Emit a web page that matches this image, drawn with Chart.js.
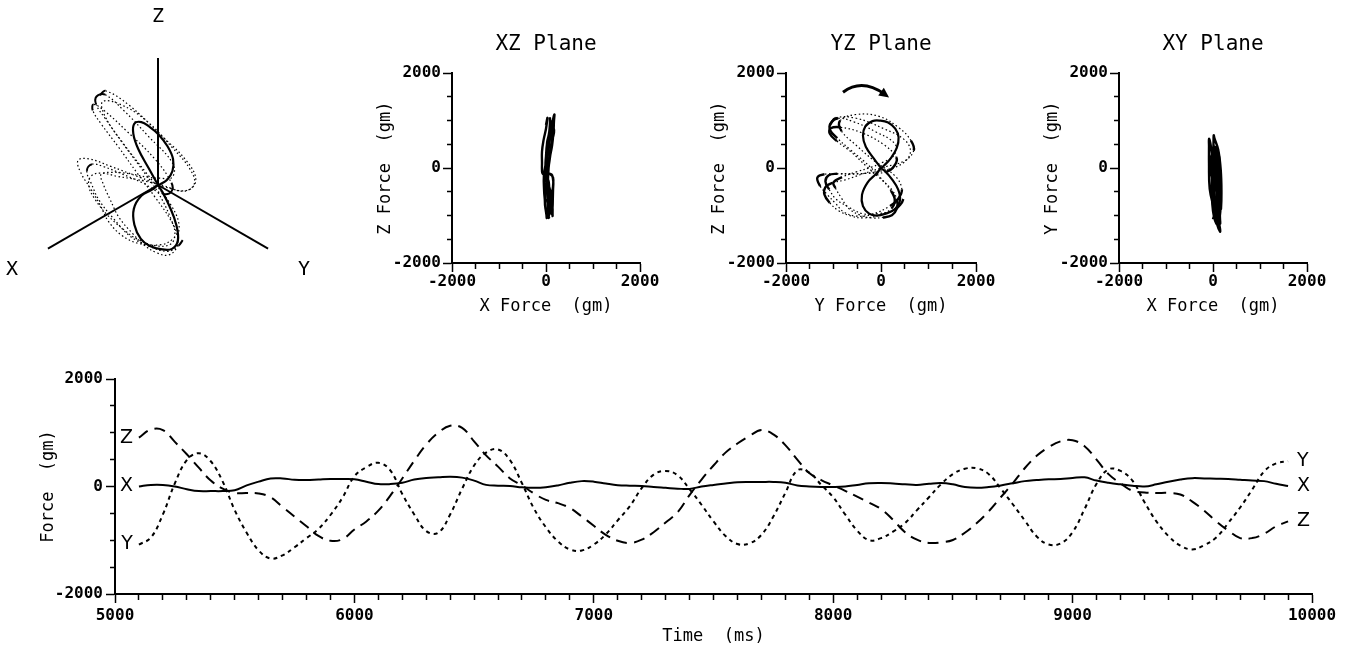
<!DOCTYPE html>
<html>
<head>
<meta charset="utf-8">
<script src="https://cdn.jsdelivr.net/npm/chart.js@4.4.0/dist/chart.umd.min.js"></script>
<style>
  html, body { margin: 0; padding: 0; background: #fff; }
  body { width: 1345px; height: 652px; position: relative; overflow: hidden; }
  canvas { position: absolute; }
</style>
</head>
<body>
<canvas id="view3d" width="320" height="300" style="left:0px;top:0px"></canvas>
<canvas id="xzPlane" width="364" height="300" style="left:300px;top:25px"></canvas>
<canvas id="yzPlane" width="366" height="300" style="left:634px;top:25px"></canvas>
<canvas id="xyPlane" width="364" height="300" style="left:967px;top:25px"></canvas>
<canvas id="timeChart" width="1345" height="312" style="left:0px;top:340px"></canvas>
<script>
// sample times (ms) and force readings (gm)
const timeMs = [
  5100, 5150, 5200, 5250, 5300, 5350, 5400, 5450, 5500, 5550,
  5600, 5650, 5700, 5750, 5800, 5850, 5900, 5950, 6000, 6050,
  6100, 6150, 6200, 6250, 6300, 6350, 6400, 6450, 6500, 6550,
  6600, 6650, 6700, 6750, 6800, 6850, 6900, 6950, 7000, 7050,
  7100, 7150, 7200, 7250, 7300, 7350, 7400, 7450, 7500, 7550,
  7600, 7650, 7700, 7750, 7800, 7850, 7900, 7950, 8000, 8050,
  8100, 8150, 8200, 8250, 8300, 8350, 8400, 8450, 8500, 8550,
  8600, 8650, 8700, 8750, 8800, 8850, 8900, 8950, 9000, 9050,
  9100, 9150, 9200, 9250, 9300, 9350, 9400, 9450, 9500, 9550,
  9600, 9650, 9700, 9750, 9800, 9850, 9900
];
const forceX = [
  0, 30, 30, 0, -50, -85, -85, -85, -70, 20,
  90, 150, 150, 125, 120, 130, 140, 140, 135, 90,
  45, 45, 70, 130, 160, 170, 180, 165, 110, 30,
  15, 10, -15, -25, -15, 20, 70, 100, 90, 55,
  25, 15, 10, -10, -25, -40, -45, 0, 30, 55,
  80, 85, 85, 85, 70, 20, 0, -10, -10, 0,
  30, 60, 65, 55, 40, 30, 50, 65, 40, -10,
  -25, -10, 20, 60, 100, 120, 135, 140, 160, 170,
  110, 70, 40, 15, 0, 40, 90, 130, 155, 150,
  145, 140, 125, 110, 100, 50, 10
];
const forceY = [
  -1080, -950, -520, 60, 490, 620, 470, 90, -440, -860,
  -1190, -1340, -1280, -1130, -960, -790, -530, -210, 190, 360,
  440, 300, -140, -520, -830, -860, -520, -40, 390, 630,
  690, 490, 60, -410, -760, -1020, -1170, -1190, -1080, -890,
  -630, -370, -30, 220, 290, 210, -50, -340, -650, -920,
  -1070, -1060, -900, -560, -120, 300, 260, 30, -200, -520,
  -820, -1000, -960, -840, -680, -440, -200, 40, 230, 330,
  340, 230, -40, -330, -630, -930, -1080, -1060, -850, -420,
  50, 320, 290, 110, -290, -650, -920, -1100, -1170, -1090,
  -950, -680, -390, -60, 280, 430, 470
];
const forceZ = [
  910, 1060, 1050, 830, 600, 350, 110, -40, -120, -120,
  -130, -200, -380, -560, -740, -920, -1010, -980, -800, -650,
  -450, -170, 150, 480, 780, 1000, 1130, 1090, 840, 580,
  370, 150, 20, -130, -250, -310, -400, -560, -730, -900,
  -1010, -1050, -990, -850, -670, -480, -160, 130, 390, 630,
  800, 940, 1050, 970, 770, 500, 250, 120, 20, -80,
  -190, -300, -420, -620, -850, -990, -1050, -1040, -995, -860,
  -680, -460, -200, 60, 340, 570, 730, 840, 860, 750,
  500, 230, 60, -80, -110, -120, -120, -150, -280, -450,
  -650, -820, -960, -960, -880, -740, -650
];
const loopX = [0, 20, 50, 80, 110, 130, 140, 140, 120, 90, 60, 30, 10, 0, 10, 30, 50, 60, 70, 60, 50, 40, 30, 20, 10, 5, 0];
const loopY = [0, -150, -320, -380, -330, -180, -20, 150, 300, 370, 330, 200, 60, 0, -100, -280, -400, -380, -250, -100, 100, 300, 400, 360, 220, 80, 0];
const loopZ = [0, 200, 450, 680, 880, 990, 1000, 960, 830, 650, 420, 200, 50, 0, -120, -300, -560, -800, -960, -1000, -960, -860, -680, -450, -220, -60, 0];

const planeTickLabels = [-2000, 0, 2000];
const forceTickLabels = [-2000, 0, 2000];
const timeTickLabels = [5000, 6000, 7000, 8000, 9000, 10000];

Chart.defaults.color = '#000';
Chart.defaults.font.family = 'DejaVu Sans Mono';
Chart.defaults.animation = false;
Chart.defaults.responsive = false;
Chart.defaults.plugins.legend.display = false;
Chart.defaults.plugins.tooltip.enabled = false;

const tickFont = { family: 'DejaVu Sans Mono', size: 16, weight: 'bold' };
const axisTitleFont = { family: 'DejaVu Sans Mono', size: 17, weight: 'normal' };

// labelled ticks are long, the others are cut short with a dash
// (left axes draw their ticks from the outer end, so the dash starts with a gap)
function tickGrid(labelled, vertical) {
  const shortDash = vertical ? [0, 4, 6, 100] : [5, 100];
  return {
    drawOnChartArea: false, tickLength: 9, color: '#000', tickWidth: 1.5,
    tickBorderDash: ctx => (ctx.tick && labelled.includes(ctx.tick.value)) ? [] : shortDash
  };
}

// sparse (fast moving) stretches of the trace look dotted, like the plotter output
function isFast(ctx, limit) {
  return Math.hypot(ctx.p1.x - ctx.p0.x, ctx.p1.y - ctx.p0.y) > limit;
}

function traceDataset(points, limit, width) {
  return {
    data: points,
    showLine: true,
    pointRadius: 0,
    borderColor: '#000',
    borderWidth: width || 2,
    tension: 0.4,
    segment: {
      borderDash: ctx => isFast(ctx, limit) ? [1.5, 2.5] : undefined,
      borderWidth: ctx => isFast(ctx, limit) ? 1.2 : undefined
    }
  };
}

function loopDataset(points) {
  return { data: points, showLine: true, pointRadius: 0, borderColor: '#000', borderWidth: 2.2, tension: 0.4 };
}

// ---- 3D view ----
const px3d = 0.062;
const origin3d = { x: 158, y: 185 };
const axisLen3d = 2050;
const labelLen3d = 2720;
const c30 = Math.cos(Math.PI / 6);

function project(fx, fy, fz) {
  return { x: (fy - fx) * c30, y: fz - (fx + fy) * 0.5 };
}

const axes3d = {
  id: 'axes3d',
  beforeDatasetsDraw(chart) {
    const { ctx, scales: { x, y } } = chart;
    const o = project(0, 0, 0);
    const ends = [project(axisLen3d, 0, 0), project(0, axisLen3d, 0), project(0, 0, axisLen3d)];
    ctx.save();
    ctx.strokeStyle = '#000';
    ctx.lineWidth = 2;
    ends.forEach(e => {
      ctx.beginPath();
      ctx.moveTo(x.getPixelForValue(o.x), y.getPixelForValue(o.y));
      ctx.lineTo(x.getPixelForValue(e.x), y.getPixelForValue(e.y));
      ctx.stroke();
    });
    ctx.font = '20px "DejaVu Sans Mono"';
    ctx.fillStyle = '#000';
    ctx.textAlign = 'center';
    ctx.textBaseline = 'middle';
    [['X', project(labelLen3d, 0, 0)], ['Y', project(0, labelLen3d, 0)], ['Z', project(0, 0, labelLen3d)]]
      .forEach(([name, p]) => ctx.fillText(name, x.getPixelForValue(p.x), y.getPixelForValue(p.y)));
    ctx.restore();
  }
};

const c3d = document.getElementById('view3d');
new Chart(c3d, {
  type: 'scatter',
  data: {
    datasets: [
      traceDataset(timeMs.map((t, i) => project(forceX[i], forceY[i], forceZ[i])), 9),
      loopDataset(loopX.map((v, i) => project(loopX[i], loopY[i], loopZ[i])))
    ]
  },
  options: {
    layout: { padding: 0 },
    scales: {
      x: { display: false, min: -origin3d.x / px3d, max: (c3d.width - origin3d.x) / px3d },
      y: { display: false, min: -(c3d.height - origin3d.y) / px3d, max: origin3d.y / px3d }
    }
  },
  plugins: [axes3d]
});

// ---- plane views ----
function planeAxis(title, isX) {
  return {
    type: 'linear',
    min: -2000,
    max: 2000,
    border: { color: '#000', width: 2 },
    grid: tickGrid(planeTickLabels, !isX),
    ticks: {
      stepSize: 500, autoSkip: false, maxRotation: 0, padding: isX ? 0 : 2, font: tickFont,
      callback: v => planeTickLabels.includes(v) ? String(v) : ''
    },
    title: { display: true, text: title, font: axisTitleFont, padding: isX ? { top: 0, bottom: 8 } : { top: 75, bottom: 0 } },
    afterFit: s => { if (isX) s.height = 62; else s.width = 152; }
  };
}

const rotationArrow = {
  id: 'rotationArrow',
  afterDatasetsDraw(chart) {
    const { ctx, scales: { x, y } } = chart;
    const p0 = [x.getPixelForValue(-800), y.getPixelForValue(1600)];
    const pc = [x.getPixelForValue(-400), y.getPixelForValue(1900)];
    const p1 = [x.getPixelForValue(170), y.getPixelForValue(1490)];
    const ang = Math.atan2(p1[1] - pc[1], p1[0] - pc[0]);
    ctx.save();
    ctx.strokeStyle = '#000';
    ctx.fillStyle = '#000';
    ctx.lineWidth = 3;
    ctx.beginPath();
    ctx.moveTo(p0[0], p0[1]);
    ctx.quadraticCurveTo(pc[0], pc[1], p1[0] - 6 * Math.cos(ang), p1[1] - 6 * Math.sin(ang));
    ctx.stroke();
    ctx.beginPath();
    ctx.moveTo(p1[0], p1[1]);
    ctx.lineTo(p1[0] - 11 * Math.cos(ang - 0.45), p1[1] - 11 * Math.sin(ang - 0.45));
    ctx.lineTo(p1[0] - 11 * Math.cos(ang + 0.45), p1[1] - 11 * Math.sin(ang + 0.45));
    ctx.closePath();
    ctx.fill();
    ctx.restore();
  }
};

function planeChart(id, xs, ys, lx, ly, fastLimit, title, xTitle, yTitle, extra) {
  return new Chart(document.getElementById(id), {
    type: 'scatter',
    data: {
      datasets: [
        traceDataset(timeMs.map((t, i) => ({ x: xs[i], y: ys[i] })), fastLimit, 2.4),
        loopDataset(lx.map((v, i) => ({ x: lx[i], y: ly[i] })))
      ]
    },
    options: {
      layout: { padding: { left: 0, right: 24, top: 0, bottom: 0 } },
      plugins: {
        title: {
          display: true, text: title, fullSize: false, color: '#000',
          font: { family: 'DejaVu Sans Mono', size: 21, weight: 'normal' },
          padding: { top: 7, bottom: 16 }
        }
      },
      scales: { x: planeAxis(xTitle, true), y: planeAxis(yTitle, false) }
    },
    plugins: extra ? [extra] : []
  });
}

planeChart('xzPlane', forceX, forceZ, loopX, loopZ, 1000, 'XZ Plane', 'X Force  (gm)', 'Z Force  (gm)');
planeChart('yzPlane', forceY, forceZ, loopY, loopZ, 11, 'YZ Plane', 'Y Force  (gm)', 'Z Force  (gm)', rotationArrow);
planeChart('xyPlane', forceX, forceY, loopX, loopY, 1000, 'XY Plane', 'X Force  (gm)', 'Y Force  (gm)');

// ---- time series ----
const endLabels = {
  id: 'endLabels',
  afterDatasetsDraw(chart) {
    const ctx = chart.ctx;
    ctx.save();
    ctx.font = '19px "DejaVu Sans"';
    ctx.fillStyle = '#000';
    ctx.textBaseline = 'middle';
    chart.data.datasets.forEach((ds, i) => {
      const pts = chart.getDatasetMeta(i).data;
      const first = pts[0], last = pts[pts.length - 1];
      ctx.textAlign = 'right';
      ctx.fillText(ds.label, first.x - 6, first.y);
      ctx.textAlign = 'left';
      ctx.fillText(ds.label, last.x + 9, last.y);
    });
    ctx.restore();
  }
};

function series(label, values, dash) {
  return {
    label,
    data: timeMs.map((t, i) => ({ x: t, y: values[i] })),
    showLine: true,
    pointRadius: 0,
    borderColor: '#000',
    borderWidth: 2,
    borderDash: dash,
    tension: 0.4
  };
}

new Chart(document.getElementById('timeChart'), {
  type: 'scatter',
  data: {
    datasets: [
      series('Z', forceZ, [11, 7]),
      series('Y', forceY, [4, 4]),
      series('X', forceX, [])
    ]
  },
  options: {
    layout: { padding: { left: 0, right: 33, top: 39, bottom: 0 } },
    scales: {
      x: {
        type: 'linear', min: 5000, max: 10000,
        border: { color: '#000', width: 2 },
        grid: tickGrid(timeTickLabels, false),
        ticks: {
          stepSize: 100, autoSkip: false, maxRotation: 0, padding: 3, font: tickFont,
          callback: v => timeTickLabels.includes(v) ? String(v) : ''
        },
        title: { display: true, text: 'Time  (ms)', font: axisTitleFont, padding: { top: 0, bottom: 5 } },
        afterFit: s => { s.height = 58; }
      },
      y: {
        type: 'linear', min: -2000, max: 2000,
        border: { color: '#000', width: 2 },
        grid: tickGrid(forceTickLabels, true),
        ticks: {
          stepSize: 500, autoSkip: false, padding: 3, font: tickFont,
          callback: v => forceTickLabels.includes(v) ? String(v) : ''
        },
        title: { display: true, text: 'Force  (gm)', font: axisTitleFont, padding: { top: 38, bottom: 0 } },
        afterFit: s => { s.width = 115; }
      }
    }
  },
  plugins: [endLabels]
});
</script>
</body>
</html>
